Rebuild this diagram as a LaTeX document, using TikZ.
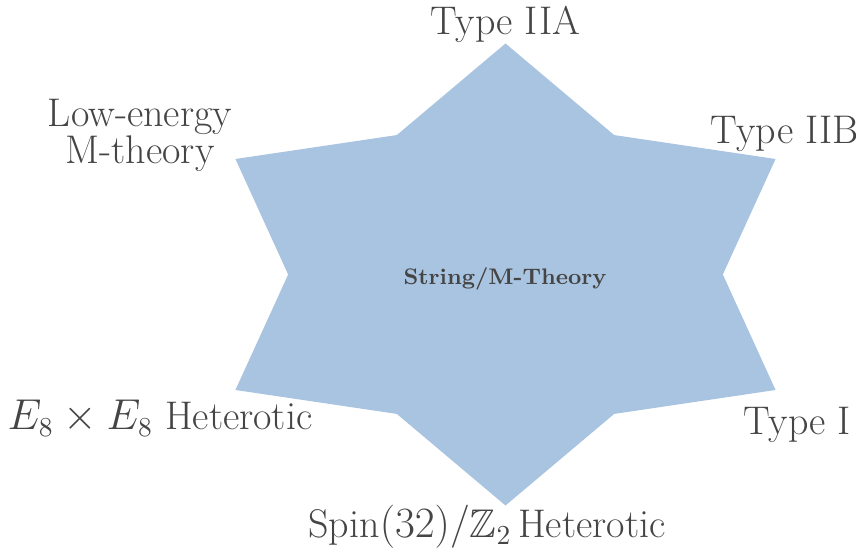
\documentclass[tikz,border=0pt]{standalone}
\usepackage{amssymb}
\usepackage{fontspec}
\definecolor{starblue}{HTML}{A9C4E0}
\definecolor{labelgray}{HTML}{454545}

\begin{document}
\begin{tikzpicture}[x=0.4pt, y=-0.4pt,
    theory/.style={text=labelgray, font=\fontsize{16}{15}\selectfont, anchor=base, inner sep=0pt, align=center}]
  % Canvas matches the original size
  \useasboundingbox (0,0) rectangle (856,552);

  % Six-pointed star, stretched sideways
  \fill[starblue, shift={(505.5,274.5)}, xscale=1.35]
    (90:231) \foreach \a in {0,60,...,300} { -- (120+\a:161) -- (150+\a:231) } -- cycle;

  % Centre label
  \node[text=labelgray, font=\bfseries\fontsize{9}{9}\selectfont, anchor=base, inner sep=0pt] (core) at (505,285) {String/M-Theory};

  % One label per point
  \node[theory] (iia) at (505,35) {Type IIA};
  \node[theory] (iib) at (785,144) {Type IIB};
  \node[theory] (mth) at (140,164) {Low-energy\\M-theory};
  \node[theory] (e8) at (160,430) {$E_8\times E_8$ Heterotic};
  \node[theory] (ti) at (797,435) {Type I};
  \node[theory] (so32) at (487,538) {$\mathrm{Spin}(32)/\mathbb{Z}_2$\,Heterotic};
\end{tikzpicture}
\end{document}
